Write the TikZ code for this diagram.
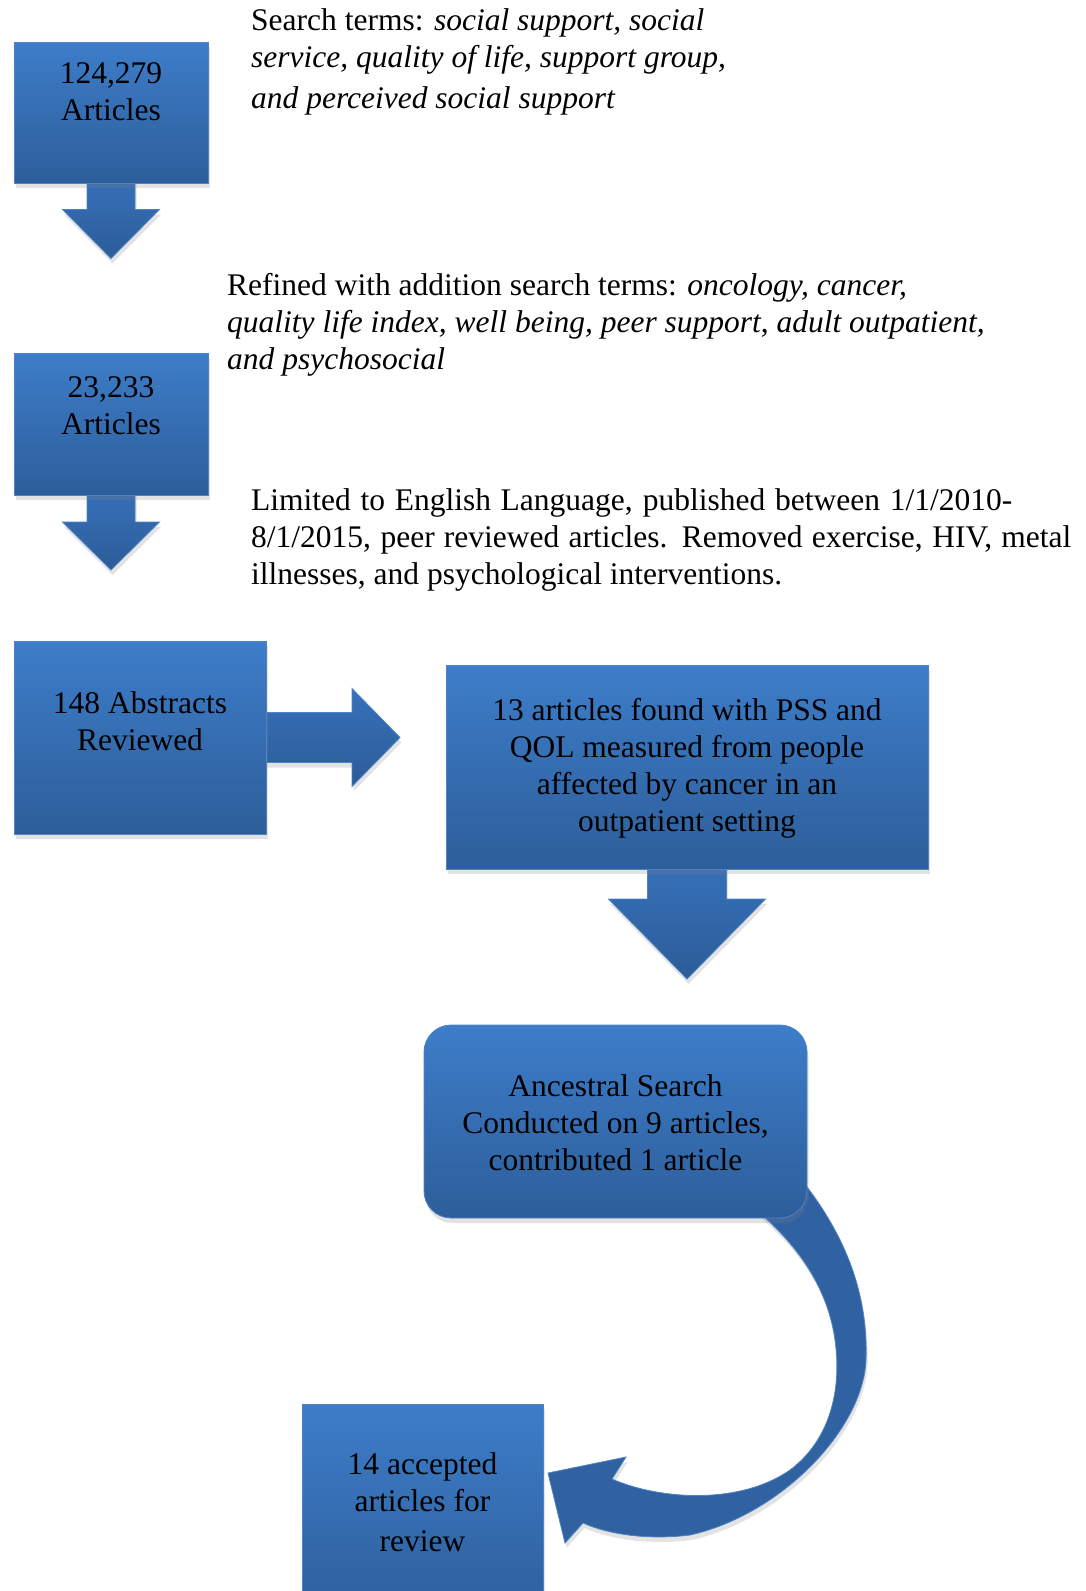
\documentclass[tikz,border=0pt]{standalone}
\usepackage{fontspec}
\setmainfont{Liberation Serif}
\usetikzlibrary{shadows}

\definecolor{boxtop}{RGB}{61,125,201}
\definecolor{boxbot}{RGB}{45,94,154}
\definecolor{boxedge}{RGB}{79,131,196}
\definecolor{arrowtop}{RGB}{55,113,186}
\definecolor{arrowbot}{RGB}{44,92,152}
\definecolor{bendfill}{RGB}{48,98,162}

\begin{document}
\begin{tikzpicture}[x=1pt, y=-1pt,
    every node/.style={font=\fontsize{31.5}{37}\selectfont},
    softshadow/.style={drop shadow={opacity=0.22, shadow xshift=1.5pt, shadow yshift=-5pt}},
    box/.style={draw=boxedge, line width=0.8pt, top color=boxtop, bottom color=boxbot,
        inner sep=0pt, softshadow},
    blockarrow/.style={draw=boxedge, line width=0.8pt, top color=arrowtop, bottom color=arrowbot,
        softshadow},
    plaintext/.style={anchor=north west, inner sep=0pt, align=left},
    boxtext/.style={anchor=north, inner sep=0pt, align=center}]
    \useasboundingbox (0,0) rectangle (1086,1591);
    \clip (0,0) rectangle (1086,1591);

    % block arrows go first, the boxes cover their tails
    \coordinate (b1s) at (111,182.5);
    \coordinate (b2s) at (111,495);
    \coordinate (b3e) at (266,737.5);
    \coordinate (b4s) at (687,869);
    \path[blockarrow] (b1s) ++(-24,-6) -- ++(0,33) -- ++(-24.5,0) -- ++(48.5,49)
        -- ++(48.5,-49) -- ++(-24.5,0) -- ++(0,-33) -- cycle;
    \path[blockarrow] (b2s) ++(-24,-6) -- ++(0,33) -- ++(-24.5,0) -- ++(48.5,48)
        -- ++(48.5,-48) -- ++(-24.5,0) -- ++(0,-33) -- cycle;
    \path[blockarrow] (b3e) ++(-6,-25) -- ++(92,0) -- ++(0,-24) -- ++(48,49)
        -- ++(-48,49) -- ++(0,-24) -- ++(-92,0) -- cycle;
    \path[blockarrow] (b4s) ++(-39.5,-6) -- ++(0,36) -- ++(-39,0) -- ++(78.5,80)
        -- ++(78.5,-80) -- ++(-39,0) -- ++(0,-36) -- cycle;

    % curved arrow from the search box back to the result
    \path[draw=boxedge, line width=0.8pt, fill=bendfill, softshadow]
        (800,1178) .. controls (850,1240) and (868,1300) .. (866,1360)
        .. controls (863,1430) and (780,1515) .. (690,1535)
        .. controls (650,1540) and (610,1535) .. (583,1523)
        -- (565,1543) -- (548,1473) -- (626,1457) -- (612,1479)
        .. controls (660,1500) and (740,1505) .. (790,1470)
        .. controls (830,1440) and (842,1390) .. (835,1340)
        .. controls (828,1290) and (800,1245) .. (750,1205) -- cycle;

    % boxes
    \node[box, minimum width=194pt, minimum height=141pt] (b1) at (111,112.5) {};
    \node[box, minimum width=194pt, minimum height=142pt] (b2) at (111,424) {};
    \node[box, minimum width=252pt, minimum height=193pt] (b3) at (140,737.5) {};
    \node[box, minimum width=482pt, minimum height=204pt] (b4) at (687,767) {};
    \node[box, rounded corners=27pt, minimum width=383pt, minimum height=193pt] (b5) at (615.5,1121.5) {};
    \node[box, minimum width=241pt, minimum height=216pt] (b6) at (422.5,1512) {};

    % box texts
    \node[boxtext] (b1t) at (111,57) {\strut 124,279\\Articles};
    \node[boxtext] (b2t) at (111,371) {\strut 23,233\\Articles};
    \node[boxtext] (b3t) at (140,687) {\strut 148 Abstracts\\Reviewed};
    \node[boxtext] (b4t) at (687,694) {\strut 13 articles found with PSS and\\QOL measured from people\\affected by cancer in an\\outpatient setting};
    \node[boxtext] (b5t) at (615.5,1070) {\strut Ancestral Search\\Conducted on 9 articles,\\contributed 1 article};
    \node[boxtext] (b6t) at (422.5,1448) {\strut 14 accepted\\articles for\\[3pt]review};

    % search notes
    \node[plaintext] (terms) at (251,4) {\strut Search terms: \textit{social support, social}\\
        \textit{service, quality of life, support group,}\\[4pt]
        \textit{and perceived social support}};
    \node[plaintext] (refined) at (227,269) {\strut Refined with addition search terms: \textit{oncology, cancer,}\\
        \textit{quality life index, well being, peer support}, \textit{adult outpatient,}\\
        \textit{and psychosocial}};
    \node[plaintext] (limits) at (251,484) {\strut\hbox to 761pt{Limited to English Language, published between 1/1/2010-}\\
        \hbox to 820pt{8/1/2015, peer reviewed articles. Removed exercise, HIV, metal}\\
        illnesses, and psychological interventions.};
\end{tikzpicture}
\end{document}
